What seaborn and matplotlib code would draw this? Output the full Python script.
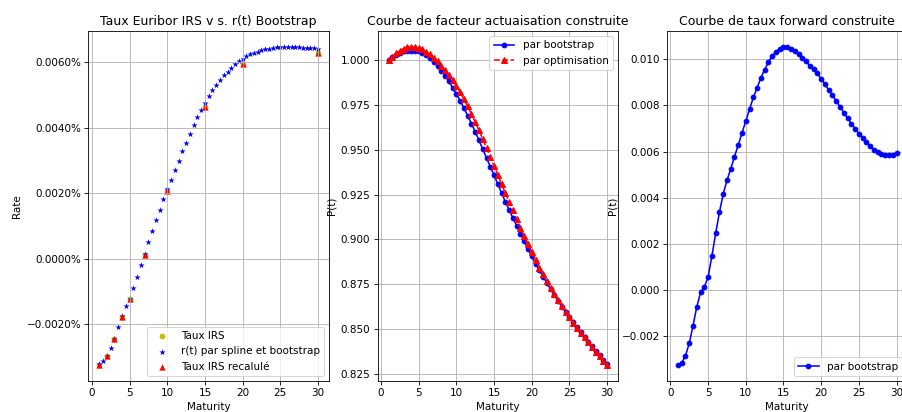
import numpy as np
import pandas as pd
import matplotlib
matplotlib.use("Agg")
import matplotlib.pyplot as plt
import seaborn as sns
from matplotlib.ticker import PercentFormatter

# Taux IRS (marche) et recalcules
irs_maturity = [1, 2, 3, 4, 5, 7, 10, 15, 20, 30]
irs_rate = [-0.00325, -0.00297, -0.00246, -0.00177, -0.00124, 0.00012, 0.00207, 0.00464, 0.00595, 0.00628]
irs_recalc = [-0.00325, -0.00297, -0.00246, -0.00177, -0.00124, 0.00012, 0.00207, 0.00464, 0.00595, 0.00628]

# grille des maturites (pas de 0.5 an)
maturity = np.arange(1, 30.5, 0.5)

# r(t) par spline et bootstrap
r_spline = [-0.00323, -0.00313, -0.00297, -0.00274, -0.00246, -0.00209, -0.00175, -0.00146, -0.00122, -0.00091,
            -0.00056, -0.00021, 0.00014, 0.00050, 0.00085, 0.00117, 0.00149, 0.00181, 0.00211, 0.00241,
            0.00271, 0.00299, 0.00328, 0.00354, 0.00381, 0.00407, 0.00431, 0.00454, 0.00474, 0.00495,
            0.00514, 0.00531, 0.00546, 0.00559, 0.00571, 0.00582, 0.00593, 0.00602, 0.00610, 0.00618,
            0.00624, 0.00628, 0.00632, 0.00636, 0.00639, 0.00641, 0.00643, 0.00645, 0.00646, 0.00646,
            0.00646, 0.00646, 0.00645, 0.00645, 0.00644, 0.00644, 0.00643, 0.00642, 0.00641]

# facteurs d'actualisation
p_bootstrap = [1.0000, 1.0016, 1.0030, 1.0041, 1.0049, 1.0052, 1.0053, 1.0051, 1.0049, 1.0041,
               1.0028, 1.0012, 0.9992, 0.9968, 0.9941, 0.9913, 0.9882, 0.9847, 0.9812, 0.9774,
               0.9733, 0.9691, 0.9646, 0.9601, 0.9553, 0.9504, 0.9455, 0.9406, 0.9358, 0.9308,
               0.9258, 0.9210, 0.9164, 0.9119, 0.9075, 0.9032, 0.8988, 0.8946, 0.8906, 0.8865,
               0.8827, 0.8792, 0.8757, 0.8722, 0.8689, 0.8657, 0.8625, 0.8594, 0.8564, 0.8536,
               0.8509, 0.8481, 0.8456, 0.8429, 0.8404, 0.8377, 0.8352, 0.8328, 0.8304]
p_optim = [1.0000, 1.0020, 1.0038, 1.0053, 1.0065, 1.0071, 1.0074, 1.0072, 1.0069, 1.0060,
           1.0047, 1.0032, 1.0014, 0.9993, 0.9969, 0.9945, 0.9918, 0.9887, 0.9855, 0.9820,
           0.9782, 0.9742, 0.9699, 0.9655, 0.9608, 0.9559, 0.9510, 0.9460, 0.9411, 0.9360,
           0.9308, 0.9258, 0.9209, 0.9161, 0.9113, 0.9066, 0.9018, 0.8972, 0.8928, 0.8883,
           0.8842, 0.8804, 0.8766, 0.8729, 0.8694, 0.8660, 0.8627, 0.8595, 0.8564, 0.8535,
           0.8507, 0.8479, 0.8453, 0.8426, 0.8400, 0.8373, 0.8347, 0.8323, 0.8298]

# taux forward
fwd = [-0.00325, -0.00315, -0.00284, -0.00230, -0.00154, -0.00072, -0.00010, 0.00014, 0.00057, 0.00147,
       0.00245, 0.00337, 0.00416, 0.00475, 0.00525, 0.00578, 0.00629, 0.00681, 0.00732, 0.00784,
       0.00834, 0.00876, 0.00919, 0.00955, 0.00987, 0.01014, 0.01033, 0.01046, 0.01053, 0.01051,
       0.01046, 0.01035, 0.01022, 0.01007, 0.00990, 0.00971, 0.00957, 0.00938, 0.00914, 0.00892,
       0.00866, 0.00843, 0.00819, 0.00794, 0.00768, 0.00744, 0.00721, 0.00699, 0.00678, 0.00657,
       0.00640, 0.00623, 0.00608, 0.00597, 0.00590, 0.00584, 0.00583, 0.00587, 0.00594]

irs_df = pd.DataFrame({"Maturity": irs_maturity, "irs": irs_rate, "recalc": irs_recalc})
curve_df = pd.DataFrame({"Maturity": maturity, "r": r_spline, "p_boot": p_bootstrap,
                         "p_opt": p_optim, "fwd": fwd})

# rendu a 75 dpi : 902 x 412 px
fig = plt.figure(figsize=(902 / 75, 412 / 75), dpi=75)
w, h, b = 0.2666, 0.8495, 0.0752
ax1 = fig.add_axes([0.0981, b, w, h])
ax2 = fig.add_axes([0.4186, b, w, h])
ax3 = fig.add_axes([0.7395, b, w, h])

# 1) taux IRS vs r(t)
sns.scatterplot(data=irs_df, x="Maturity", y="irs", color="y", marker="o", s=30, linewidth=0,
                label="Taux IRS", ax=ax1)
sns.scatterplot(data=curve_df, x="Maturity", y="r", color="b", marker="*", s=40, linewidth=0,
                label="r(t) par spline et bootstrap", ax=ax1)
sns.scatterplot(data=irs_df, x="Maturity", y="recalc", color="r", marker="^", s=36, linewidth=0,
                label="Taux IRS recalulé", ax=ax1)
ax1.yaxis.set_major_formatter(PercentFormatter(xmax=100, decimals=4))
ax1.set_title("Taux Euribor IRS v s. r(t) Bootstrap")
ax1.set_xlabel("Maturity")
ax1.set_ylabel("Rate")
ax1.legend(loc="lower right")
ax1.grid(True)

# 2) facteurs d'actualisation
sns.lineplot(data=curve_df, x="Maturity", y="p_boot", color="b", marker=".", markersize=9,
             markeredgecolor="b", markeredgewidth=1, label="par bootstrap", ax=ax2)
sns.lineplot(data=curve_df, x="Maturity", y="p_opt", color="r", linestyle="--", marker="^", markersize=5.5,
             markeredgecolor="r", markeredgewidth=1, label="par optimisation", ax=ax2)
ax2.set_title("Courbe de facteur actuaisation construite")
ax2.set_xlabel("Maturity")
ax2.set_ylabel("P(t)")
ax2.legend(loc="upper right")
ax2.grid(True)

# 3) taux forward
sns.lineplot(data=curve_df, x="Maturity", y="fwd", color="b", marker=".", markersize=9,
             markeredgecolor="b", markeredgewidth=1, label="par bootstrap", ax=ax3)
ax3.set_title("Courbe de taux forward construite")
ax3.set_xlabel("Maturity")
ax3.set_ylabel("P(t)")
ax3.legend(loc="lower right")
ax3.grid(True)

for ax in (ax1, ax2, ax3):
    ax.set_xticks([0, 5, 10, 15, 20, 25, 30])

fig.savefig("out.png", dpi=75)
